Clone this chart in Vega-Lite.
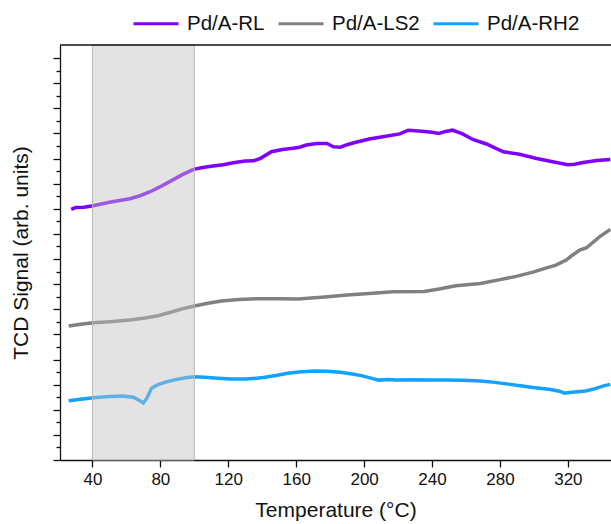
{
  "$schema": "https://vega.github.io/schema/vega-lite/v6.json",
  "autosize": "none",
  "padding": {"left": 60, "top": 45, "right": 0, "bottom": 64},
  "width": 551,
  "height": 415,
  "background": "white",
  "config": {
    "font": "Liberation Sans",
    "view": {"stroke": null},
    "axis": {"grid": false, "domainColor": "#111", "domainWidth": 1.3, "tickColor": "#111", "tickWidth": 1.3, "labelColor": "#111", "titleColor": "#111", "titleFontWeight": "normal", "titleFontSize": 21, "labelFontSize": 17}
  },
  "datasets": {
    "tcd": [
      {"t": 27.5, "s": 9.98, "sample": "Pd/A-RL"},
      {"t": 30, "s": 10.05, "sample": "Pd/A-RL"},
      {"t": 35, "s": 10.06, "sample": "Pd/A-RL"},
      {"t": 40.5, "s": 10.12, "sample": "Pd/A-RL"},
      {"t": 50, "s": 10.26, "sample": "Pd/A-RL"},
      {"t": 62, "s": 10.4, "sample": "Pd/A-RL"},
      {"t": 68, "s": 10.52, "sample": "Pd/A-RL"},
      {"t": 74, "s": 10.68, "sample": "Pd/A-RL"},
      {"t": 80, "s": 10.88, "sample": "Pd/A-RL"},
      {"t": 86, "s": 11.1, "sample": "Pd/A-RL"},
      {"t": 93, "s": 11.36, "sample": "Pd/A-RL"},
      {"t": 99.5, "s": 11.57, "sample": "Pd/A-RL"},
      {"t": 105, "s": 11.64, "sample": "Pd/A-RL"},
      {"t": 111, "s": 11.7, "sample": "Pd/A-RL"},
      {"t": 117, "s": 11.75, "sample": "Pd/A-RL"},
      {"t": 123, "s": 11.83, "sample": "Pd/A-RL"},
      {"t": 130, "s": 11.9, "sample": "Pd/A-RL"},
      {"t": 135, "s": 11.91, "sample": "Pd/A-RL"},
      {"t": 139, "s": 12.01, "sample": "Pd/A-RL"},
      {"t": 145.4, "s": 12.27, "sample": "Pd/A-RL"},
      {"t": 152, "s": 12.36, "sample": "Pd/A-RL"},
      {"t": 158, "s": 12.41, "sample": "Pd/A-RL"},
      {"t": 162, "s": 12.45, "sample": "Pd/A-RL"},
      {"t": 166, "s": 12.54, "sample": "Pd/A-RL"},
      {"t": 172, "s": 12.6, "sample": "Pd/A-RL"},
      {"t": 178, "s": 12.6, "sample": "Pd/A-RL"},
      {"t": 182, "s": 12.47, "sample": "Pd/A-RL"},
      {"t": 186, "s": 12.45, "sample": "Pd/A-RL"},
      {"t": 190, "s": 12.55, "sample": "Pd/A-RL"},
      {"t": 194, "s": 12.63, "sample": "Pd/A-RL"},
      {"t": 203, "s": 12.78, "sample": "Pd/A-RL"},
      {"t": 211, "s": 12.87, "sample": "Pd/A-RL"},
      {"t": 221, "s": 12.98, "sample": "Pd/A-RL"},
      {"t": 226, "s": 13.13, "sample": "Pd/A-RL"},
      {"t": 234, "s": 13.09, "sample": "Pd/A-RL"},
      {"t": 240, "s": 13.05, "sample": "Pd/A-RL"},
      {"t": 244, "s": 13.0, "sample": "Pd/A-RL"},
      {"t": 248, "s": 13.08, "sample": "Pd/A-RL"},
      {"t": 252, "s": 13.13, "sample": "Pd/A-RL"},
      {"t": 258, "s": 12.98, "sample": "Pd/A-RL"},
      {"t": 264, "s": 12.76, "sample": "Pd/A-RL"},
      {"t": 272, "s": 12.58, "sample": "Pd/A-RL"},
      {"t": 282, "s": 12.27, "sample": "Pd/A-RL"},
      {"t": 291.5, "s": 12.17, "sample": "Pd/A-RL"},
      {"t": 301, "s": 12.01, "sample": "Pd/A-RL"},
      {"t": 311, "s": 11.87, "sample": "Pd/A-RL"},
      {"t": 320, "s": 11.75, "sample": "Pd/A-RL"},
      {"t": 324, "s": 11.77, "sample": "Pd/A-RL"},
      {"t": 329, "s": 11.84, "sample": "Pd/A-RL"},
      {"t": 337, "s": 11.92, "sample": "Pd/A-RL"},
      {"t": 345, "s": 11.96, "sample": "Pd/A-RL"},

      {"t": 26, "s": 5.33, "sample": "Pd/A-LS2"},
      {"t": 33, "s": 5.4, "sample": "Pd/A-LS2"},
      {"t": 40.5, "s": 5.46, "sample": "Pd/A-LS2"},
      {"t": 50, "s": 5.5, "sample": "Pd/A-LS2"},
      {"t": 62, "s": 5.57, "sample": "Pd/A-LS2"},
      {"t": 70, "s": 5.64, "sample": "Pd/A-LS2"},
      {"t": 78.6, "s": 5.74, "sample": "Pd/A-LS2"},
      {"t": 86, "s": 5.88, "sample": "Pd/A-LS2"},
      {"t": 93, "s": 6.02, "sample": "Pd/A-LS2"},
      {"t": 100, "s": 6.13, "sample": "Pd/A-LS2"},
      {"t": 108, "s": 6.24, "sample": "Pd/A-LS2"},
      {"t": 116, "s": 6.33, "sample": "Pd/A-LS2"},
      {"t": 126, "s": 6.39, "sample": "Pd/A-LS2"},
      {"t": 136.5, "s": 6.42, "sample": "Pd/A-LS2"},
      {"t": 150, "s": 6.42, "sample": "Pd/A-LS2"},
      {"t": 161, "s": 6.41, "sample": "Pd/A-LS2"},
      {"t": 175, "s": 6.48, "sample": "Pd/A-LS2"},
      {"t": 190, "s": 6.57, "sample": "Pd/A-LS2"},
      {"t": 205, "s": 6.64, "sample": "Pd/A-LS2"},
      {"t": 217, "s": 6.7, "sample": "Pd/A-LS2"},
      {"t": 235.5, "s": 6.71, "sample": "Pd/A-LS2"},
      {"t": 245, "s": 6.82, "sample": "Pd/A-LS2"},
      {"t": 254, "s": 6.94, "sample": "Pd/A-LS2"},
      {"t": 268.5, "s": 7.03, "sample": "Pd/A-LS2"},
      {"t": 280, "s": 7.18, "sample": "Pd/A-LS2"},
      {"t": 289, "s": 7.3, "sample": "Pd/A-LS2"},
      {"t": 300, "s": 7.49, "sample": "Pd/A-LS2"},
      {"t": 306, "s": 7.62, "sample": "Pd/A-LS2"},
      {"t": 313, "s": 7.76, "sample": "Pd/A-LS2"},
      {"t": 319, "s": 7.96, "sample": "Pd/A-LS2"},
      {"t": 322, "s": 8.12, "sample": "Pd/A-LS2"},
      {"t": 327, "s": 8.36, "sample": "Pd/A-LS2"},
      {"t": 331, "s": 8.45, "sample": "Pd/A-LS2"},
      {"t": 338.8, "s": 8.89, "sample": "Pd/A-LS2"},
      {"t": 345, "s": 9.18, "sample": "Pd/A-LS2"},

      {"t": 26, "s": 2.36, "sample": "Pd/A-RH2"},
      {"t": 33, "s": 2.42, "sample": "Pd/A-RH2"},
      {"t": 40.5, "s": 2.48, "sample": "Pd/A-RH2"},
      {"t": 50, "s": 2.53, "sample": "Pd/A-RH2"},
      {"t": 58, "s": 2.55, "sample": "Pd/A-RH2"},
      {"t": 64, "s": 2.5, "sample": "Pd/A-RH2"},
      {"t": 67.5, "s": 2.38, "sample": "Pd/A-RH2"},
      {"t": 70, "s": 2.27, "sample": "Pd/A-RH2"},
      {"t": 72, "s": 2.45, "sample": "Pd/A-RH2"},
      {"t": 74.8, "s": 2.86, "sample": "Pd/A-RH2"},
      {"t": 78.6, "s": 3.0, "sample": "Pd/A-RH2"},
      {"t": 84, "s": 3.12, "sample": "Pd/A-RH2"},
      {"t": 89, "s": 3.2, "sample": "Pd/A-RH2"},
      {"t": 95, "s": 3.27, "sample": "Pd/A-RH2"},
      {"t": 100, "s": 3.31, "sample": "Pd/A-RH2"},
      {"t": 106, "s": 3.29, "sample": "Pd/A-RH2"},
      {"t": 113.8, "s": 3.25, "sample": "Pd/A-RH2"},
      {"t": 122, "s": 3.22, "sample": "Pd/A-RH2"},
      {"t": 130.3, "s": 3.22, "sample": "Pd/A-RH2"},
      {"t": 140.6, "s": 3.28, "sample": "Pd/A-RH2"},
      {"t": 148, "s": 3.36, "sample": "Pd/A-RH2"},
      {"t": 155, "s": 3.45, "sample": "Pd/A-RH2"},
      {"t": 163, "s": 3.51, "sample": "Pd/A-RH2"},
      {"t": 171.5, "s": 3.54, "sample": "Pd/A-RH2"},
      {"t": 178, "s": 3.53, "sample": "Pd/A-RH2"},
      {"t": 186, "s": 3.49, "sample": "Pd/A-RH2"},
      {"t": 193, "s": 3.42, "sample": "Pd/A-RH2"},
      {"t": 198.4, "s": 3.36, "sample": "Pd/A-RH2"},
      {"t": 204, "s": 3.26, "sample": "Pd/A-RH2"},
      {"t": 208.7, "s": 3.18, "sample": "Pd/A-RH2"},
      {"t": 214, "s": 3.2, "sample": "Pd/A-RH2"},
      {"t": 219, "s": 3.18, "sample": "Pd/A-RH2"},
      {"t": 228, "s": 3.19, "sample": "Pd/A-RH2"},
      {"t": 237.6, "s": 3.18, "sample": "Pd/A-RH2"},
      {"t": 248, "s": 3.18, "sample": "Pd/A-RH2"},
      {"t": 258, "s": 3.17, "sample": "Pd/A-RH2"},
      {"t": 268.5, "s": 3.14, "sample": "Pd/A-RH2"},
      {"t": 277, "s": 3.09, "sample": "Pd/A-RH2"},
      {"t": 285, "s": 3.02, "sample": "Pd/A-RH2"},
      {"t": 292, "s": 2.96, "sample": "Pd/A-RH2"},
      {"t": 299.5, "s": 2.89, "sample": "Pd/A-RH2"},
      {"t": 309.8, "s": 2.81, "sample": "Pd/A-RH2"},
      {"t": 315, "s": 2.74, "sample": "Pd/A-RH2"},
      {"t": 318.1, "s": 2.66, "sample": "Pd/A-RH2"},
      {"t": 322, "s": 2.7, "sample": "Pd/A-RH2"},
      {"t": 330.5, "s": 2.75, "sample": "Pd/A-RH2"},
      {"t": 336.6, "s": 2.85, "sample": "Pd/A-RH2"},
      {"t": 341, "s": 2.95, "sample": "Pd/A-RH2"},
      {"t": 345, "s": 3.01, "sample": "Pd/A-RH2"}
    ],
    "band": [{"start": 40, "end": 100}],
    "frame": [{"top": 16.52}]
  },
  "layer": [
    {
      "data": {"name": "tcd"},
      "mark": {"type": "line", "strokeWidth": 3.5, "clip": true, "interpolate": "linear"},
      "encoding": {
        "x": {
          "field": "t", "type": "quantitative",
          "scale": {"domain": [20.9, 345.4], "nice": false, "zero": false},
          "axis": {
            "title": "Temperature (°C)",
            "values": [40, 60, 80, 100, 120, 140, 160, 180, 200, 220, 240, 260, 280, 300, 320, 340],
            "labelExpr": "datum.value % 40 === 0 ? datum.label : ''",
            "labelOverlap": false,
            "tickSize": {"condition": {"test": "datum.value % 40 === 0", "value": 7}, "value": 4},
            "labelPadding": 4,
            "titlePadding": 12,
            "labelFlush": false
          }
        },
        "y": {
          "field": "s", "type": "quantitative",
          "scale": {"domain": [0, 16.52], "nice": false, "zero": false},
          "axis": {
            "title": "TCD Signal (arb. units)",
            "labels": true,
            "labelExpr": "''",
            "labelOverlap": false,
            "labelPadding": 0,
            "tickCount": 40,
            "values": [0, 0.5, 1, 1.5, 2, 2.5, 3, 3.5, 4, 4.5, 5, 5.5, 6, 6.5, 7, 7.5, 8, 8.5, 9, 9.5, 10, 10.5, 11, 11.5, 12, 12.5, 13, 13.5, 14, 14.5, 15, 15.5, 16],
            "tickSize": {"condition": {"test": "datum.value % 1 === 0", "value": 7}, "value": 4},
            "titlePadding": 21
          }
        },
        "color": {
          "field": "sample", "type": "nominal",
          "scale": {"domain": ["Pd/A-RL", "Pd/A-LS2", "Pd/A-RH2"], "range": ["#8000ff", "#808080", "#12a2ff"]},
          "legend": {
            "title": null,
            "orient": "none",
            "direction": "horizontal",
            "legendX": 72,
            "legendY": -45.5,
            "padding": 0,
            "symbolType": "stroke",
            "symbolSize": 2025,
            "symbolStrokeWidth": 3,
            "labelFontSize": 20.5,
            "labelColor": "#111",
            "labelOffset": 7,
            "columnPadding": 7
          }
        }
      }
    },
    {
      "data": {"name": "band"},
      "mark": {"type": "rect", "fill": "#c0c0c0", "fillOpacity": 0.45, "stroke": "#b8b8b8", "strokeWidth": 1},
      "encoding": {
        "x": {"field": "start", "type": "quantitative"},
        "x2": {"field": "end"}
      }
    },
    {
      "data": {"name": "frame"},
      "mark": {"type": "rule", "color": "#111", "strokeWidth": 1.3},
      "encoding": {
        "y": {"field": "top", "type": "quantitative"}
      }
    }
  ]
}
